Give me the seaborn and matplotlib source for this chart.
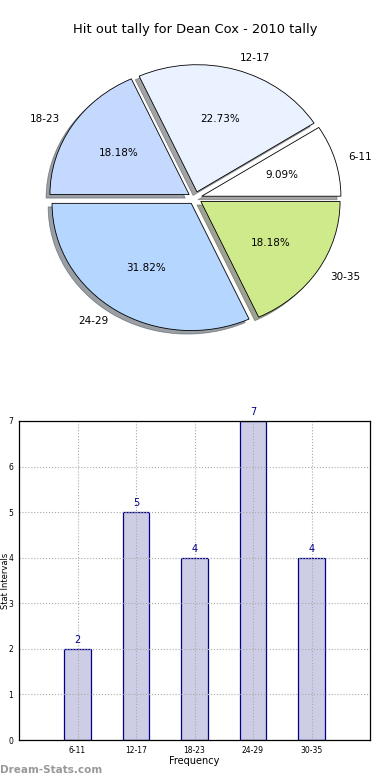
import matplotlib
matplotlib.use("Agg")
import matplotlib.pyplot as plt
import seaborn as sns
import pandas as pd

# data
intervals = ['6-11', '12-17', '18-23', '24-29', '30-35']
tally = [2, 5, 4, 7, 4]
pie_colors = ['#FFFFFF', '#EBF2FF', '#C5D9FF', '#B5D6FF', '#CFEA8B']

sns.set_style("white")
plt.rcParams['font.family'] = ['DejaVu Sans']
plt.rcParams['text.color'] = 'black'
plt.rcParams['axes.labelcolor'] = 'black'
plt.rcParams['xtick.color'] = 'black'
plt.rcParams['ytick.color'] = 'black'

fig = plt.figure(figsize=(3.9, 7.8), dpi=100)

# pie chart (top)
ax1 = fig.add_axes([21 / 390, 1 - 357 / 780, 348 / 390, 318 / 780])
wedges, texts, autotexts = ax1.pie(
    tally, labels=intervals, colors=pie_colors, explode=[0.05] * 5,
    autopct='%.2f%%', shadow=True, startangle=0, counterclock=True,
    wedgeprops={'edgecolor': 'black', 'linewidth': 0.6},
    textprops={'fontsize': 7.5, 'color': 'black'})
ax1.set_aspect('auto')
ax1.set_xlim(-1.25, 1.25)
ax1.set_ylim(-1.25, 1.25)
fig.text(0.5, 1 - 30 / 780, 'Hit out tally for Dean Cox - 2010 tally',
         ha='center', va='center', fontsize=9.4)

# bar chart (bottom)
ax2 = fig.add_axes([19 / 390, 1 - 740 / 780, 351 / 390, 319 / 780])
df = pd.DataFrame({'interval': intervals, 'tally': tally})
sns.barplot(data=df, x='interval', y='tally', ax=ax2, width=0.45,
            color='#CDCDE6', edgecolor='#00008B', linewidth=0.9,
            saturation=1)
for i, v in enumerate(tally):
    ax2.text(i, v + 0.08, str(v), ha='center', va='bottom',
             fontsize=7, color='#00008B')
ax2.set_xlim(-1, 5)
ax2.set_ylim(0, 7)
ax2.set_yticks(range(8))
ax2.grid(True, linestyle=':', color='#aaaaaa', linewidth=0.8)
ax2.set_axisbelow(False)
ax2.tick_params(axis='both', labelsize=5.5, length=2, pad=2)
ax2.set_xlabel('Frequency', fontsize=7, labelpad=1)
ax2.set_ylabel('Stat Intervals', fontsize=6)
ax2.yaxis.set_label_coords(-9 / 351, 0.5)
for s in ax2.spines.values():
    s.set_color('black')
    s.set_linewidth(0.9)
    s.set_zorder(5)

fig.text(0.0, 1 - 770 / 780, 'Dream-Stats.com', ha='left', va='center',
         fontsize=7.5, color='#999999', fontweight='bold')

fig.savefig('out.png', dpi=100)
